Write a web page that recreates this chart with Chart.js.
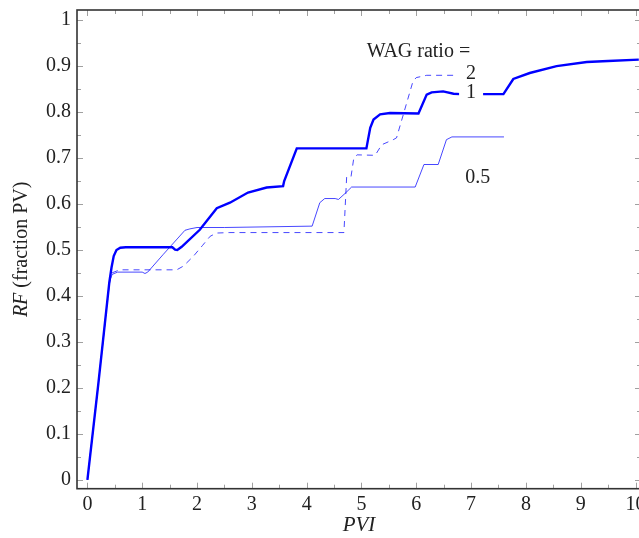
<!DOCTYPE html>
<html>
<head>
<meta charset="utf-8">
<script src="https://cdn.jsdelivr.net/npm/chart.js@4.4.1/dist/chart.umd.min.js"></script>
<style>
  html, body { margin: 0; padding: 0; background: #fff; overflow: hidden; }
  #wrap { width: 650px; height: 538px; }
</style>
</head>
<body>
<div id="wrap"><canvas id="rf" width="650" height="538"></canvas></div>
<script>
// ********************* data ***********************
// WAG ratio = 1 (thick)
const wag1X = [0, 0.2, 0.4, 0.44, 0.48, 0.53, 0.6, 0.7, 1.0, 1.55, 1.6, 1.64, 1.72, 2.05, 2.36, 2.6, 2.93, 3.27, 3.57, 3.59, 3.82,
               5.09, 5.16, 5.22, 5.34, 5.52, 6.04, 6.19, 6.28, 6.49, 6.68, 6.8, 7.22, 7.59, 7.77, 8.07, 8.56, 9.11, 9.5, 10.06];
const wag1Y = [0, 0.21, 0.43, 0.462, 0.487, 0.5, 0.505, 0.506, 0.506, 0.506, 0.501, 0.5, 0.507, 0.544, 0.591, 0.603, 0.625, 0.636, 0.639, 0.65, 0.721,
               0.721, 0.766, 0.784, 0.795, 0.798, 0.797, 0.838, 0.843, 0.845, 0.84, 0.839, 0.839, 0.839, 0.872, 0.885, 0.9, 0.909, 0.911, 0.914];

// WAG ratio = 2 (dashed)
const wag2X = [0, 0.2, 0.4, 0.44, 0.59, 1.0, 1.63, 1.75, 1.93, 2.1, 2.24, 2.36, 2.6, 4.68, 4.73, 4.81, 4.86, 4.92, 5.25, 5.37, 5.58, 5.64,
               5.94, 6.0, 6.19, 6.7];
const wag2Y = [0, 0.21, 0.425, 0.45, 0.457, 0.457, 0.457, 0.465, 0.486, 0.51, 0.53, 0.537, 0.538, 0.538, 0.66, 0.66, 0.7, 0.707, 0.706, 0.729, 0.74, 0.744,
               0.867, 0.875, 0.88, 0.88];

// WAG ratio = 0.5 (thin)
const wag05X = [0, 0.2, 0.4, 0.45, 0.55, 1.0, 1.05, 1.1, 1.38, 1.78, 1.87, 2.0, 2.5, 4.1, 4.24, 4.33, 4.52, 4.58, 4.7, 4.82, 5.98, 6.14, 6.4,
                6.55, 6.65, 7.6];
const wag05Y = [0, 0.21, 0.43, 0.447, 0.452, 0.452, 0.449, 0.452, 0.49, 0.543, 0.546, 0.549, 0.549, 0.552, 0.603, 0.612, 0.612, 0.61, 0.623, 0.637, 0.637, 0.686, 0.686,
                0.74, 0.746, 0.746];

// curve labels
const labelText = ['WAG ratio =', '2', '1', '0.5'];
const labelX = [6.04, 7.0, 7.0, 7.12];
const labelY = [0.919, 0.871, 0.831, 0.646];

const toPoints = (xs, ys) => xs.map((x, i) => ({ x: x, y: ys[i] }));
const serif = '"Liberation Serif", "DejaVu Serif", serif';

// ********************* plugins ***********************
// pgfplots style frame with ticks pointing inward
const frame = {
  id: 'frame',
  beforeDatasetsDraw(chart) {
    const { ctx, chartArea: a, scales: { x, y } } = chart;
    ctx.save();
    ctx.strokeStyle = '#a0a0a0';
    ctx.lineWidth = 1;
    ctx.beginPath();
    for (let k = 0; k <= 20; k++) {
      const px = Math.round(x.getPixelForValue(k / 2)) + 0.5;
      const len = k % 2 === 0 ? 6 : 4;
      ctx.moveTo(px, a.bottom); ctx.lineTo(px, a.bottom - len);
      ctx.moveTo(px, a.top); ctx.lineTo(px, a.top + len);
    }
    for (let k = 0; k <= 20; k++) {
      const py = Math.round(y.getPixelForValue(k / 20)) + 0.5;
      const len = k % 2 === 0 ? 6 : 4;
      ctx.moveTo(a.left, py); ctx.lineTo(a.left + len, py);
      ctx.moveTo(a.right, py); ctx.lineTo(a.right - len, py);
    }
    ctx.stroke();
    ctx.restore();
  },
  afterDatasetsDraw(chart) {
    const { ctx, scales: { x, y } } = chart;
    ctx.save();
    ctx.font = '20px ' + serif;
    ctx.textAlign = 'center';
    ctx.textBaseline = 'alphabetic';
    labelText.forEach((t, i) => {
      const px = x.getPixelForValue(labelX[i]);
      const py = y.getPixelForValue(labelY[i]);
      const w = ctx.measureText(t).width + 14;
      ctx.fillStyle = '#fff';
      ctx.fillRect(px - w / 2, py - 16, w, 21);
      ctx.fillStyle = '#222';
      ctx.fillText(t, px, py);
    });
    ctx.restore();
  },
  afterDraw(chart) {
    const { ctx, chartArea: a } = chart;
    ctx.save();
    ctx.strokeStyle = '#333';
    ctx.lineWidth = 1.6;
    ctx.strokeRect(a.left, a.top, a.right - a.left, a.bottom - a.top);
    // y axis title: italic RF then plain text
    const p1 = 'RF', p2 = ' (fraction PV)';
    ctx.translate(22, (a.top + a.bottom) / 2);
    ctx.rotate(-Math.PI / 2);
    ctx.fillStyle = '#222';
    ctx.textBaseline = 'middle';
    ctx.textAlign = 'left';
    ctx.font = 'italic 20px ' + serif;
    const w1 = ctx.measureText(p1).width;
    ctx.font = '20px ' + serif;
    const w2 = ctx.measureText(p2).width;
    let sx = -(w1 + w2) / 2;
    ctx.font = 'italic 20px ' + serif;
    ctx.fillText(p1, sx, 0);
    ctx.font = '20px ' + serif;
    ctx.fillText(p2, sx + w1, 0);
    ctx.restore();
  }
};

// ********************* chart ***********************
const rfData = {
  datasets: [{
    label: '0.5',
    data: toPoints(wag05X, wag05Y),
    borderColor: 'rgba(0, 0, 255, 0.72)',
    borderWidth: 1,
  }, {
    label: '2',
    data: toPoints(wag2X, wag2Y),
    borderColor: 'rgba(0, 0, 255, 0.72)',
    borderWidth: 1,
    borderDash: [6, 5],
  }, {
    label: '1',
    data: toPoints(wag1X, wag1Y),
    borderColor: 'rgb(0, 0, 255)',
    borderWidth: 2.4,
  }]
};

const rfConfig = {
  type: 'line',
  data: rfData,
  options: {
    responsive: false,
    animation: false,
    devicePixelRatio: 1,
    layout: { padding: { top: 10, right: 9, left: 0, bottom: 0 } },
    elements: { point: { radius: 0 }, line: { tension: 0, fill: false } },
    plugins: { legend: { display: false }, tooltip: { enabled: false } },
    scales: {
      x: {
        type: 'linear',
        min: -0.19,
        max: 10.1,
        border: { display: false },
        grid: { display: false, drawTicks: false },
        ticks: { stepSize: 1, includeBounds: false, padding: 4, color: '#222', font: { family: serif, size: 20 } },
        title: { display: true, text: 'PVI', color: '#222', padding: { top: 0, bottom: 0 }, font: { family: serif, size: 21, style: 'italic' } },
        afterFit(s) { s.height = 49.3; s.paddingLeft = 0; s.paddingRight = 0; }
      },
      y: {
        type: 'linear',
        min: -0.019,
        max: 1.022,
        border: { display: false },
        grid: { display: false, drawTicks: false },
        ticks: {
          stepSize: 0.1, includeBounds: false, padding: 6, color: '#222',
          font: { family: serif, size: 20 },
          callback: v => String(Math.round(v * 10) / 10)
        },
        afterFit(s) { s.width = 77; s.paddingTop = 0; s.paddingBottom = 0; }
      }
    }
  },
  plugins: [frame]
};

const rfChart = new Chart(
  document.getElementById('rf'),
  rfConfig
);
</script>
</body>
</html>
